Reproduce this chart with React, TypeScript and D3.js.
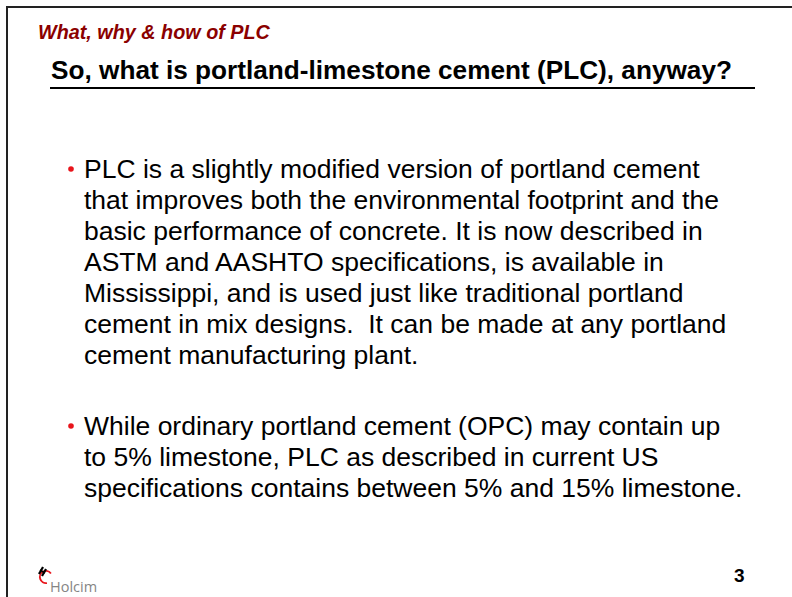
import React, { useEffect, useRef } from "react";
import * as d3 from "d3";

const kicker = "What, why & how of PLC";
const title = "So, what is portland-limestone cement (PLC), anyway?";

const bulletOne = [
    "PLC is a slightly modified version of portland cement",
    "that improves both the environmental footprint and the",
    "basic performance of concrete. It is now described in",
    "ASTM and AASHTO specifications, is available in",
    "Mississippi, and is used just like traditional portland",
    "cement in mix designs.  It can be made at any portland",
    "cement manufacturing plant.",
];

const bulletTwo = [
    "While ordinary portland cement (OPC) may contain up",
    "to 5% limestone, PLC as described in current US",
    "specifications contains between 5% and 15% limestone.",
];

const bullets = [bulletOne, bulletTwo];
const pageNumber = "3";

const App = () => {
    const svgRef = useRef(null);

    useEffect(() => {
        const width = 792;
        const height = 597;
        const font = "Liberation Sans, Arial, sans-serif";
        const svg = d3.select(svgRef.current);
        svg.selectAll("*").remove();

        svg.append("rect")
            .attr("width", width)
            .attr("height", height)
            .attr("fill", "#fff");

        // slide frame
        svg.append("rect")
            .attr("x", 7)
            .attr("y", 7)
            .attr("width", 820)
            .attr("height", 620)
            .attr("fill", "none")
            .attr("stroke", "#222")
            .attr("stroke-width", 2);

        svg.append("text")
            .attr("x", 38)
            .attr("y", 39)
            .attr("font-family", font)
            .attr("font-size", 19.8)
            .attr("font-weight", "bold")
            .attr("font-style", "italic")
            .attr("fill", "#8B0000")
            .text(kicker);

        svg.append("text")
            .attr("x", 51)
            .attr("y", 79)
            .attr("font-family", font)
            .attr("font-size", 26.2)
            .attr("font-weight", "bold")
            .attr("fill", "#000")
            .text(title);

        svg.append("line")
            .attr("x1", 50)
            .attr("x2", 755)
            .attr("y1", 88)
            .attr("y2", 88)
            .attr("stroke", "#000")
            .attr("stroke-width", 2);

        const lineHeight = 31;
        const starts = [178, 435];
        bullets.forEach((lines, bi) => {
            const y = d3
                .scaleLinear()
                .domain([0, 1])
                .range([starts[bi], starts[bi] + lineHeight]);

            svg.append("circle")
                .attr("cx", 71)
                .attr("cy", y(0) - 9)
                .attr("r", 2.8)
                .attr("fill", "#E8141B");

            svg.selectAll(`.line-${bi}`)
                .data(lines)
                .enter()
                .append("text")
                .attr("class", `line-${bi}`)
                .attr("x", 84)
                .attr("y", (_d, i) => y(i))
                .attr("font-family", font)
                .attr("font-size", 26.5)
                .attr("fill", "#000")
                .style("white-space", "pre")
                .text((d) => d);
        });

        // Holcim logo
        const logo = svg.append("g").attr("transform", "translate(46, 577)");
        logo.append("path")
            .attr(
                "d",
                d3.arc()({
                    innerRadius: 5.2,
                    outerRadius: 7,
                    startAngle: -Math.PI * 1.05,
                    endAngle: Math.PI * 0.3,
                } as any)
            )
            .attr("fill", "#E8141B");
        logo.append("line")
            .attr("x1", -7)
            .attr("y1", -3)
            .attr("x2", -3)
            .attr("y2", -10)
            .attr("stroke", "#000")
            .attr("stroke-width", 2.2);
        logo.append("line")
            .attr("x1", -4)
            .attr("y1", -1)
            .attr("x2", 0)
            .attr("y2", -8)
            .attr("stroke", "#000")
            .attr("stroke-width", 2.2);
        logo.append("line")
            .attr("x1", -6)
            .attr("y1", -7)
            .attr("x2", -1)
            .attr("y2", -4)
            .attr("stroke", "#000")
            .attr("stroke-width", 1.5);
        svg.append("text")
            .attr("x", 50)
            .attr("y", 592)
            .attr("font-family", "Open Sans, sans-serif")
            .attr("font-size", 14.5)
            .attr("fill", "#858585")
            .text("Holcim");

        svg.append("text")
            .attr("x", 734)
            .attr("y", 582)
            .attr("font-family", font)
            .attr("font-size", 19)
            .attr("font-weight", "bold")
            .attr("fill", "#000")
            .text(pageNumber);
    }, []);

    return (
        <svg
            ref={svgRef}
            width={792}
            height={597}
            style={{ position: "absolute", left: 0, top: 0 }}
        ></svg>
    );
};

export default App;
